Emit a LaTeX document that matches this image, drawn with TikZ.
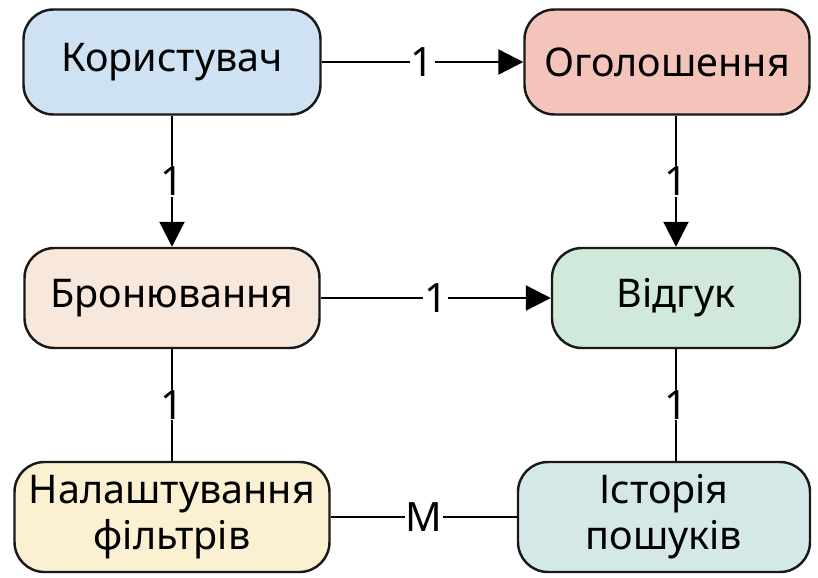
\documentclass[tikz,border=0pt]{standalone}
\usepackage{fontspec}
\setmainfont{Noto Sans}
\usetikzlibrary{arrows.meta}

\definecolor{cUsr}{HTML}{CFE2F3}
\definecolor{cAd}{HTML}{F4C4BA}
\definecolor{cBook}{HTML}{F8E8DC}
\definecolor{cRev}{HTML}{D0E9DA}
\definecolor{cFilt}{HTML}{FBF1D2}
\definecolor{cHist}{HTML}{D4E9E7}

\begin{document}
\begin{tikzpicture}[
  ent/.style={draw=black!90, line width=1.4pt, rounded corners=0.6cm,
    align=center, font=\fontsize{22.5}{26}\selectfont, inner sep=0pt},
  rel/.style={line width=1.3pt},
  arr/.style={rel, -{Triangle[length=5mm,width=5mm]}},
  card/.style={midway, fill=white, inner sep=0.5pt, font=\fontsize{23}{26}\selectfont}
]
\useasboundingbox (0,0) rectangle (16.36,-11.54);

\node[ent, fill=cUsr, minimum width=5.94cm, minimum height=2.1cm] (usr) at (3.44,-1.24) {Користувач};
\node[ent, fill=cAd, minimum width=5.7cm, minimum height=2.1cm] (ad) at (13.34,-1.24) {Оголошення};
\node[ent, fill=cBook, minimum width=5.9cm, minimum height=2.0cm] (book) at (3.44,-5.96) {Бронювання};
\node[ent, fill=cRev, minimum width=4.96cm, minimum height=2.0cm] (rev) at (13.52,-5.96) {Відгук};
\node[ent, fill=cFilt, minimum width=6.3cm, minimum height=2.2cm] (filt) at (3.44,-10.34) {Налаштування\\фільтрів};
\node[ent, fill=cHist, minimum width=5.84cm, minimum height=2.2cm] (hist) at (13.28,-10.34) {Історія\\пошуків};

\draw[arr] (usr) -- node[card] {1} (ad);
\draw[arr] (usr) -- node[card] {1} (book);
\draw[arr] (rev.north |- ad.south) -- node[card] {1} (rev.north);
\draw[arr] (book) -- node[card] {1} (rev);
\draw[rel] (book) -- node[card] {1} (filt);
\draw[rel] (rev.south) -- node[card] {1} (rev.south |- hist.north);
\draw[rel] (filt) -- node[card] {M} (hist);
\end{tikzpicture}
\end{document}
